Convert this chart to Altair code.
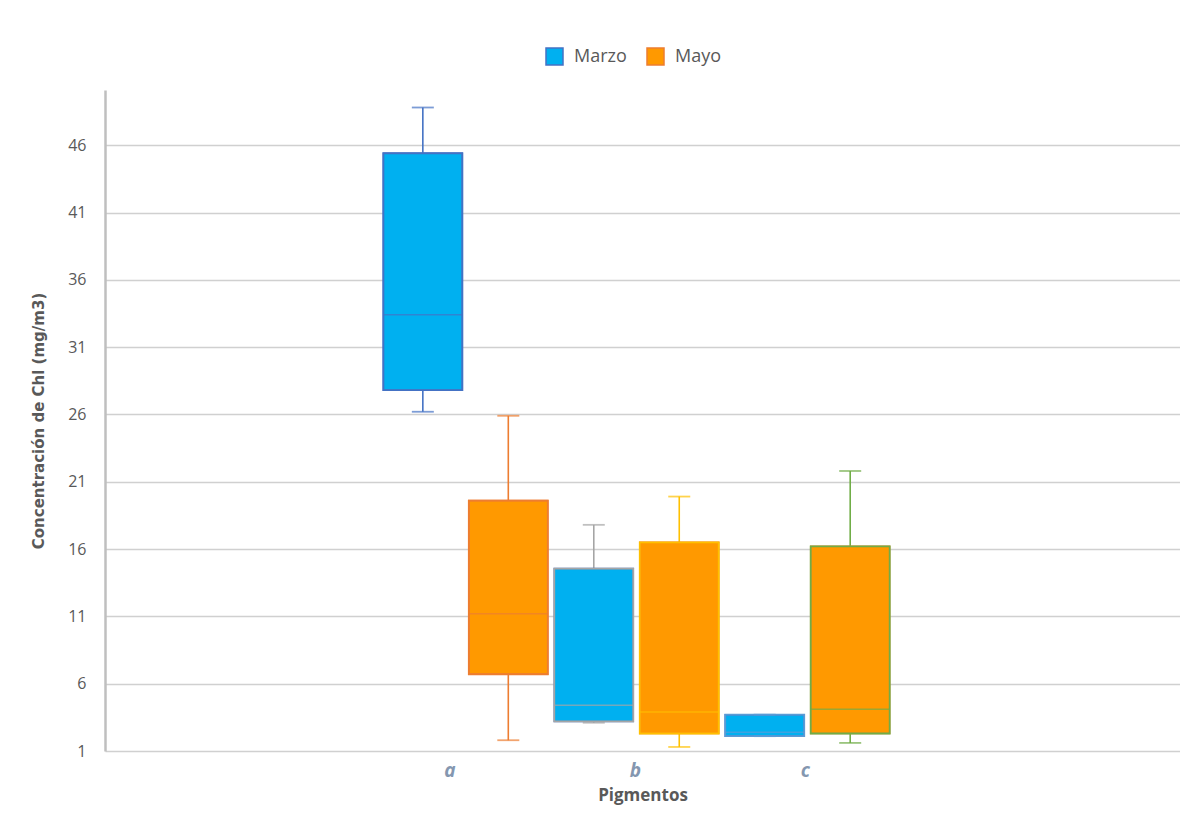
import altair as alt
import pandas as pd

# ---- data ----
series = ["Marzo", "Mayo", "Marzo", "Mayo", "Marzo", "Mayo"]
pigment = ["a", "a", "b", "b", "c", "c"]
w_low = [26.2, 1.8, 3.1, 1.3, 2.1, 1.6]
q1 = [27.8, 6.7, 3.2, 2.3, 2.1, 2.3]
median = [33.4, 11.2, 4.4, 3.9, 2.4, 4.1]
q3 = [45.4, 19.6, 14.55, 16.5, 3.7, 16.2]
w_high = [48.8, 25.9, 17.8, 19.9, 3.7, 21.8]
y_ticks = [1, 6, 11, 16, 21, 26, 31, 36, 41, 46]
categories = ["a", "b", "c"]

# ---- layout / style ----
FIRST_SLOT = 3.66
CAT_POS = [3.97, 6.14, 8.13]
BORDER = ["#4472C4", "#ED7D31", "#A5A5A5", "#FFC000", "#5B9BD5", "#70AD47"]
FILL = {"Marzo": "#00B0F0", "Mayo": "#FF9900"}
LEG_STROKE = ["#4472C4", "#ED7D31"]
GRAY = "#595959"
W, H = 1075, 661

box_ids = [f"{s}-{p}" for s, p in zip(series, pigment)]
df = pd.DataFrame({
    "Serie": series, "Pigmento": pigment, "box": box_ids,
    "lo": w_low, "q1": q1, "med": median, "q3": q3, "hi": w_high,
    "pos": [FIRST_SLOT + i for i in range(len(series))],
})

xs = alt.Scale(domain=[0, 12.46], nice=False, zero=False)
ys = alt.Scale(domain=[1, 50.1], nice=False, zero=False)

label_expr = " : ".join(
    [f"datum.value < {(CAT_POS[i] + CAT_POS[i + 1]) / 2} ? '{categories[i]}'" for i in range(len(categories) - 1)]
    + [f"'{categories[-1]}'"]
)

x_enc = alt.X("pos:Q", scale=xs, title="Pigmentos",
              axis=alt.Axis(values=CAT_POS, labelExpr=label_expr, grid=False, domain=False,
                            ticks=False, labelFont="Open Sans", labelFontSize=19,
                            labelFontStyle="italic", labelFontWeight="bold", labelColor="#8497B0",
                            labelPadding=10, titleFont="Open Sans", titleFontSize=17,
                            titleFontWeight="bold", titleColor=GRAY, titlePadding=7))
y_axis = alt.Axis(values=y_ticks, grid=True, gridColor="#D0D0D0", gridWidth=1.6,
                  domain=True, domainColor="#BFBFBF", domainWidth=2.5, ticks=False,
                  labelFont="Open Sans", labelFontSize=16, labelColor=GRAY, labelPadding=19,
                  title="Concentración de Chl (mg/m3)",
                  titleFont="DejaVu Sans", titleFontSize=15, titleFontWeight="bold",
                  titleColor=GRAY, titlePadding=21)

legend = alt.Legend(orient="none", legendX=440, legendY=-43, direction="horizontal",
                    title=None, symbolType="square", symbolSize=289, symbolStrokeWidth=1.5,
                    labelFont="Open Sans", labelFontSize=18, labelColor=GRAY,
                    columnPadding=17, labelOffset=10)

box_color = alt.Color("box:N", scale=alt.Scale(domain=box_ids, range=BORDER), legend=None)

base = alt.Chart(df)

whisk = base.mark_rule(strokeWidth=1.6).encode(
    x=x_enc, y=alt.Y("lo:Q", scale=ys, axis=y_axis), y2="hi:Q", color=box_color)

fill_box = base.mark_bar(size=79, strokeWidth=1.5).encode(
    x="pos:Q", y="q1:Q", y2="q3:Q",
    fill=alt.Fill("Serie:N", scale=alt.Scale(domain=list(FILL), range=list(FILL.values())),
                  legend=legend),
    stroke=alt.Stroke("Serie:N", scale=alt.Scale(domain=list(FILL), range=LEG_STROKE),
                      legend=legend),
)

outline = base.mark_bar(size=79, strokeWidth=1.8, filled=False).encode(
    x="pos:Q", y="q1:Q", y2="q3:Q", color=box_color)

med = base.mark_tick(orient="horizontal", size=79, thickness=1.5).encode(
    x="pos:Q", y="med:Q", color=box_color)

cap_lo = base.mark_tick(orient="horizontal", size=22, thickness=1.8).encode(
    x="pos:Q", y="lo:Q", color=box_color)
cap_hi = base.mark_tick(orient="horizontal", size=22, thickness=1.8).encode(
    x="pos:Q", y="hi:Q", color=box_color)

chart = alt.layer(whisk, fill_box, outline, med, cap_lo, cap_hi).properties(
    width=W, height=H,
    background="white",
    autosize=alt.AutoSizeParams(type="none"),
    padding={"left": 97, "top": 82, "right": 0, "bottom": 55},
).configure_view(strokeWidth=0, stroke="transparent")

chart.save("out.html", embed_options={"renderer": "svg", "actions": False})
